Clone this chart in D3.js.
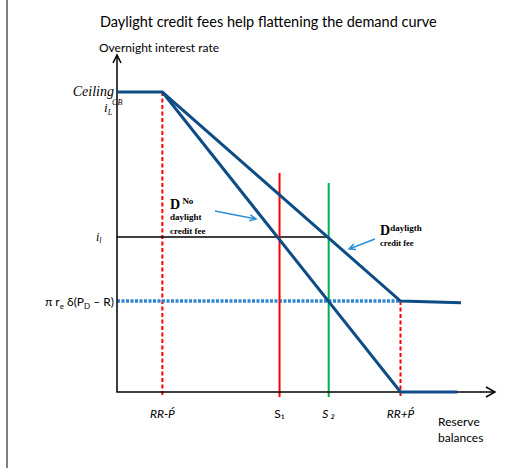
<!DOCTYPE html>
<html>
<head>
<meta charset="utf-8">
<script src="https://cdn.jsdelivr.net/npm/d3@7"></script>
<style>
  body { margin: 0; background: #fff; }
  text { font-family: Lato, "Open Sans", sans-serif; }
  .serif { font-family: "Liberation Serif", "DejaVu Serif", serif; }
</style>
</head>
<body>
<div id="chart"></div>
<script>
// values in chart units (reserve balances on x, overnight rate on y)
var xTicks = [
  {label: "RR-Ṕ", v: 12, italic: true},
  {label: "S\u2081", v: 43, italic: false},
  {label: "S \u2082", v: 56, italic: true},
  {label: "RR+Ṕ", v: 75, italic: true}
];
var ceilingRate = 89;
var i1Rate = 46;
var floorRate = 27;
var demandNoFee = [[0, 89], [12, 89], [75, 0], [90, 0]];
var demandFee = [[12, 89], [75, 27], [91, 26.5]];
var s1Line = [[43, 65], [43, -1.5]];
var s2Line = [[56, 62], [56, -1.5]];

var width = 528, height = 471;
var svg = d3.select("#chart").append("svg")
    .attr("width", width)
    .attr("height", height);

var x = d3.scaleLinear().domain([0, 100]).range([117, 495]);
var y = d3.scaleLinear().domain([0, 100]).range([392, 55]);
var line = d3.line().x(function(d){ return x(d[0]); }).y(function(d){ return y(d[1]); });

// page border on the left
svg.append("line").attr("x1", 7).attr("x2", 7).attr("y1", 0).attr("y2", 468)
    .attr("stroke", "#000").attr("stroke-width", 1);

svg.append("text").attr("x", 100).attr("y", 27)
    .style("font-size", "14.5px").text("Daylight credit fees help flattening the demand curve");
svg.append("text").attr("x", 99).attr("y", 52)
    .style("font-size", "12px").text("Overnight interest rate");

// red dashed guides
svg.append("path").attr("d", line([[12, ceilingRate], [12, -1.5]]))
    .attr("stroke", "#ff0000").attr("stroke-width", 2).attr("stroke-dasharray", "4,2.5").attr("fill", "none");
svg.append("path").attr("d", line([[75, floorRate], [75, -1.5]]))
    .attr("stroke", "#ff0000").attr("stroke-width", 2).attr("stroke-dasharray", "4,2.5").attr("fill", "none");

// blue dotted floor
svg.append("path").attr("d", line([[0, floorRate], [75, floorRate]]))
    .attr("stroke", "#2e86d0").attr("stroke-width", 3.5).attr("stroke-dasharray", "3,1.5").attr("fill", "none");

// i1 line
svg.append("path").attr("d", line([[0, i1Rate], [56, i1Rate]]))
    .attr("stroke", "#000").attr("stroke-width", 1.5).attr("fill", "none");

// supply lines
svg.append("path").attr("d", line(s1Line)).attr("stroke", "#ff0000").attr("stroke-width", 2).attr("fill", "none");
svg.append("path").attr("d", line(s2Line)).attr("stroke", "#00b050").attr("stroke-width", 2).attr("fill", "none");

// axes
svg.append("path").attr("d", line([[0, 100], [0, 0], [100, 0]]))
    .attr("stroke", "#000").attr("stroke-width", 1.5).attr("fill", "none");
svg.append("path").attr("d", "M" + (x(0) - 4) + "," + (y(100) + 8) + "L" + x(0) + "," + y(100) + "L" + (x(0) + 4) + "," + (y(100) + 8))
    .attr("stroke", "#000").attr("stroke-width", 1.5).attr("fill", "none");
svg.append("path").attr("d", "M" + (x(100) - 9) + "," + (y(0) - 5) + "L" + x(100) + "," + y(0) + "L" + (x(100) - 9) + "," + (y(0) + 5))
    .attr("stroke", "#000").attr("stroke-width", 1.5).attr("fill", "none");

// demand curves
svg.append("path").attr("d", line(demandNoFee))
    .attr("stroke", "#0d4c85").attr("stroke-width", 3).attr("fill", "none");
svg.append("path").attr("d", line(demandFee))
    .attr("stroke", "#0d4c85").attr("stroke-width", 3).attr("fill", "none");

// y labels
svg.append("text").attr("class", "serif").attr("x", 114).attr("y", 96).attr("text-anchor", "end")
    .style("font-size", "14px").style("font-style", "italic").text("Ceiling");
var il = svg.append("text").attr("class", "serif").attr("x", 104).attr("y", 112)
    .style("font-size", "13px").style("font-style", "italic");
il.append("tspan").text("i");
il.append("tspan").attr("dy", 3).style("font-size", "8px").text("L");
il.append("tspan").attr("dy", -10).style("font-size", "8px").text("CB");

var i1 = svg.append("text").attr("class", "serif").attr("x", 96).attr("y", y(i1Rate) + 4)
    .style("font-size", "12px").style("font-style", "italic");
i1.append("tspan").text("i");
i1.append("tspan").attr("dy", 2).style("font-size", "8px").text("l");

var pr = svg.append("text").attr("x", 114).attr("y", y(floorRate) + 5).attr("text-anchor", "end")
    .style("font-size", "12px");
pr.append("tspan").text("\u03c0 r");
pr.append("tspan").attr("dy", 3).style("font-size", "8px").text("e");
pr.append("tspan").attr("dy", -3).text(" \u03b4(P");
pr.append("tspan").attr("dy", 3).style("font-size", "8px").text("D");
pr.append("tspan").attr("dy", -3).text(" \u2013 R)");

// x labels
svg.selectAll(".xt").data(xTicks).enter().append("text")
    .attr("x", function(d){ return x(d.v); })
    .attr("y", 418)
    .attr("text-anchor", "middle")
    .style("font-size", "12px")
    .style("font-style", function(d){ return d.italic ? "italic" : "normal"; })
    .text(function(d){ return d.label; });
svg.append("text").attr("x", 438).attr("y", 426).style("font-size", "12px").text("Reserve");
svg.append("text").attr("x", 438).attr("y", 442).style("font-size", "12px").text("balances");

// curve annotations
var dn = svg.append("text").attr("class", "serif").attr("x", 170).attr("y", 209)
    .style("font-weight", "bold").style("font-size", "14px");
dn.append("tspan").text("D");
dn.append("tspan").attr("dy", -5).style("font-size", "9px").text(" No");
svg.append("text").attr("class", "serif").attr("x", 170).attr("y", 220)
    .style("font-weight", "bold").style("font-size", "9px").text("daylight");
svg.append("text").attr("class", "serif").attr("x", 170).attr("y", 234)
    .style("font-weight", "bold").style("font-size", "9px").text("credit fee");

var df = svg.append("text").attr("class", "serif").attr("x", 380).attr("y", 235)
    .style("font-weight", "bold").style("font-size", "14px");
df.append("tspan").text("D");
df.append("tspan").attr("dy", -4).style("font-size", "9px").text("dayligth");
svg.append("text").attr("class", "serif").attr("x", 380).attr("y", 246)
    .style("font-weight", "bold").style("font-size", "8.5px").text("credit fee");

function arrow(x1, y1, x2, y2) {
  var a = Math.atan2(y2 - y1, x2 - x1), h = 7;
  svg.append("path")
    .attr("d", "M" + x1 + "," + y1 + "L" + x2 + "," + y2 +
      "M" + (x2 - h * Math.cos(a - 0.45)) + "," + (y2 - h * Math.sin(a - 0.45)) +
      "L" + x2 + "," + y2 +
      "L" + (x2 - h * Math.cos(a + 0.45)) + "," + (y2 - h * Math.sin(a + 0.45)))
    .attr("stroke", "#2b8fd6").attr("stroke-width", 1.5).attr("fill", "none");
}
arrow(215, 211, 256, 219);
arrow(375, 239, 349, 249);
</script>
</body>
</html>
